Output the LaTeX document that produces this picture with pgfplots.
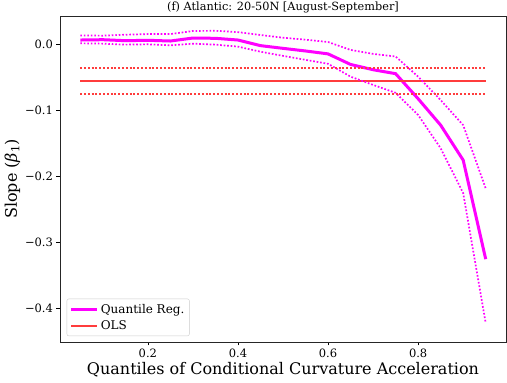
\documentclass[border=0pt]{standalone}
\usepackage{fontspec}
\setmainfont{DejaVu Serif}
\usepackage{pgfplots}
\pgfplotsset{compat=1.18}
\definecolor{qmag}{RGB}{255,0,255}
\definecolor{olsred}{RGB}{255,60,60}

\begin{document}
\begin{tikzpicture}
\begin{axis}[
    scale only axis,
    width=446pt, height=326pt,
    at={(0,0)}, anchor=south west,
    xmin=0.005, xmax=0.995,
    ymin=-0.4515, ymax=0.0424,
    xtick={0.2,0.4,0.6,0.8},
    xticklabels={0.2,0.4,0.6,0.8},
    ytick={-0.4,-0.3,-0.2,-0.1,0},
    yticklabels={−0.4,−0.3,−0.2,−0.1,0.0},
    tick align=outside,
    tick pos=left,
    major tick length=3.5pt,
    tick style={black, line width=0.6pt},
    ticklabel style={font=\fontsize{11.5}{13}\selectfont},
    axis line style={line width=0.8pt, black!85},
    title={(f) Atlantic: 20-50N [August-September]},
    title style={font=\fontsize{11.3}{12}\selectfont, yshift=-7pt},
    xlabel={Quantiles of Conditional Curvature Acceleration},
    ylabel={Slope ({\itshape β}\textsubscript{1})},
    label style={font=\fontsize{16}{18}\selectfont},
    xlabel style={yshift=2pt},
    ylabel style={yshift=-2pt},
    legend style={at={(0.015,0.018)}, anchor=south west,
        font=\fontsize{12}{14}\selectfont,
        draw=black!20, rounded corners=2pt, fill=white, fill opacity=0.8, text opacity=1,
        row sep=2pt, inner xsep=3pt, inner ysep=3pt},
    legend cell align=left,
    legend image code/.code={\draw[#1] (0pt,0pt) -- (26pt,0pt);},
]
\addplot[color=qmag, line width=3pt] coordinates {
(0.05,0.006)(0.10,0.0065)(0.15,0.005)(0.20,0.0056)(0.25,0.0045)
(0.30,0.009)(0.35,0.0086)(0.40,0.006)(0.45,-0.0025)(0.50,-0.0066)
(0.55,-0.0106)(0.60,-0.015)(0.65,-0.031)(0.70,-0.039)(0.75,-0.045)
(0.80,-0.083)(0.85,-0.123)(0.90,-0.176)(0.95,-0.326)};
\addlegendentry{Quantile Reg.}
\addplot[color=olsred, line width=2pt] coordinates {(0.05,-0.0556)(0.95,-0.0556)};
\addlegendentry{OLS}
\addplot[color=qmag, line width=1.7pt, dash pattern=on 1.7pt off 1.8pt, forget plot] coordinates {
(0.05,0.013)(0.10,0.0126)(0.15,0.014)(0.20,0.015)(0.25,0.015)
(0.30,0.0197)(0.35,0.020)(0.40,0.018)(0.45,0.0136)(0.50,0.0095)
(0.55,0.0065)(0.60,0.003)(0.65,-0.009)(0.70,-0.015)(0.75,-0.019)
(0.80,-0.0495)(0.85,-0.085)(0.90,-0.123)(0.95,-0.219)};
\addplot[color=qmag, line width=1.7pt, dash pattern=on 1.7pt off 1.8pt, forget plot] coordinates {
(0.05,0.001)(0.10,0.0005)(0.15,-0.001)(0.20,-0.0005)(0.25,-0.002)
(0.30,0.0005)(0.35,-0.001)(0.40,-0.004)(0.45,-0.0117)(0.50,-0.018)
(0.55,-0.024)(0.60,-0.030)(0.65,-0.0495)(0.70,-0.062)(0.75,-0.074)
(0.80,-0.1076)(0.85,-0.158)(0.90,-0.226)(0.95,-0.423)};
\addplot[color=olsred, line width=2pt, dash pattern=on 2pt off 1.8pt, forget plot] coordinates {(0.05,-0.036)(0.95,-0.036)};
\addplot[color=olsred, line width=2pt, dash pattern=on 2pt off 1.8pt, forget plot] coordinates {(0.05,-0.0758)(0.95,-0.0758)};
\end{axis}
\pgfresetboundingbox
\path (-60pt,-41pt) rectangle (447pt,342pt);
\end{tikzpicture}
\end{document}
